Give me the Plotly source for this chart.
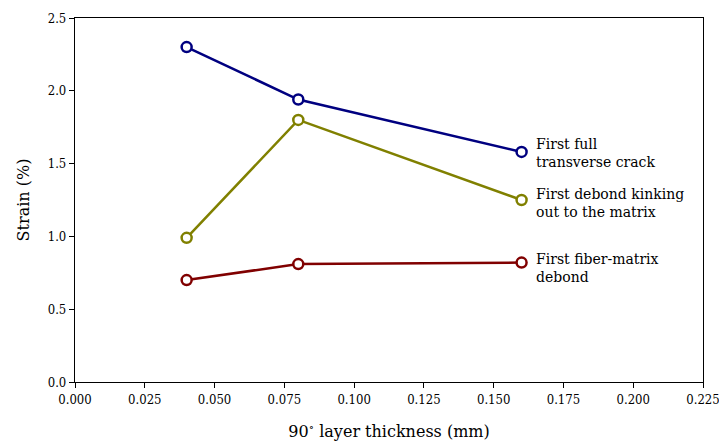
import plotly.graph_objects as go

# Layer thickness (mm) and failure onset strains (%)
thickness = [0.04, 0.08, 0.16]
strain_transverse_crack = [2.30, 1.94, 1.58]
strain_debond_kinking = [0.99, 1.80, 1.25]
strain_fiber_matrix_debond = [0.70, 0.81, 0.82]

series_labels = [
    "First full<br>transverse crack",
    "First debond kinking<br>out to the matrix",
    "First fiber-matrix<br>debond",
]
series_colors = ["#000080", "#808000", "#800000"]
label_y = [1.57, 1.23, 0.78]
label_x = 0.1645

x_ticks = [0, 0.025, 0.05, 0.075, 0.1, 0.125, 0.15, 0.175, 0.2, 0.225]
x_tick_text = ["0.000", "0.025", "0.050", "0.075", "0.100",
               "0.125", "0.150", "0.175", "0.200", "0.225"]
y_ticks = [0, 0.5, 1.0, 1.5, 2.0, 2.5]
y_tick_text = ["0.0", "0.5", "1.0", "1.5", "2.0", "2.5"]

FONT = "'DejaVu Serif', serif"
TICK_FONT = "'DejaVu Serif Condensed', 'DejaVu Serif', serif"

fig = go.Figure()
for ys, color in zip(
    [strain_transverse_crack, strain_debond_kinking, strain_fiber_matrix_debond],
    series_colors,
):
    fig.add_trace(
        go.Scatter(
            x=thickness,
            y=ys,
            mode="lines+markers",
            line=dict(color=color, width=2.5),
            marker=dict(
                symbol="circle",
                size=10,
                color="white",
                line=dict(color=color, width=2.5),
            ),
            showlegend=False,
            cliponaxis=False,
        )
    )

for text, y in zip(series_labels, label_y):
    fig.add_annotation(
        x=label_x,
        y=y,
        xref="x",
        yref="y",
        text=text,
        showarrow=False,
        xanchor="left",
        yanchor="middle",
        align="left",
        font=dict(family=FONT, size=14, color="black"),
    )

axis_common = dict(
    showgrid=False,
    zeroline=False,
    showline=True,
    linecolor="black",
    linewidth=1.2,
    mirror=True,
    ticks="outside",
    ticklen=5,
    tickwidth=1,
    tickcolor="black",
    automargin=False,
    ticklabeloverflow="allow",
    tickfont=dict(family=TICK_FONT, size=13, color="black"),
)

fig.update_xaxes(
    range=[0, 0.225],
    tickmode="array",
    tickvals=x_ticks,
    ticktext=x_tick_text,
    title=dict(
        text="90<sup>∘</sup> layer thickness (mm)",
        font=dict(family=FONT, size=16, color="black"),
        standoff=20,
    ),
    **axis_common,
)
fig.update_yaxes(
    range=[0, 2.5],
    tickmode="array",
    tickvals=y_ticks,
    ticktext=y_tick_text,
    title=dict(
        text="Strain (%)",
        font=dict(family=FONT, size=16, color="black"),
        standoff=14,
    ),
    **axis_common,
)

fig.update_layout(
    width=719,
    height=444,
    margin=dict(l=75, r=16, t=18, b=62),
    paper_bgcolor="white",
    plot_bgcolor="white",
    font=dict(family=FONT, color="black"),
)

fig.write_html("out.html")
